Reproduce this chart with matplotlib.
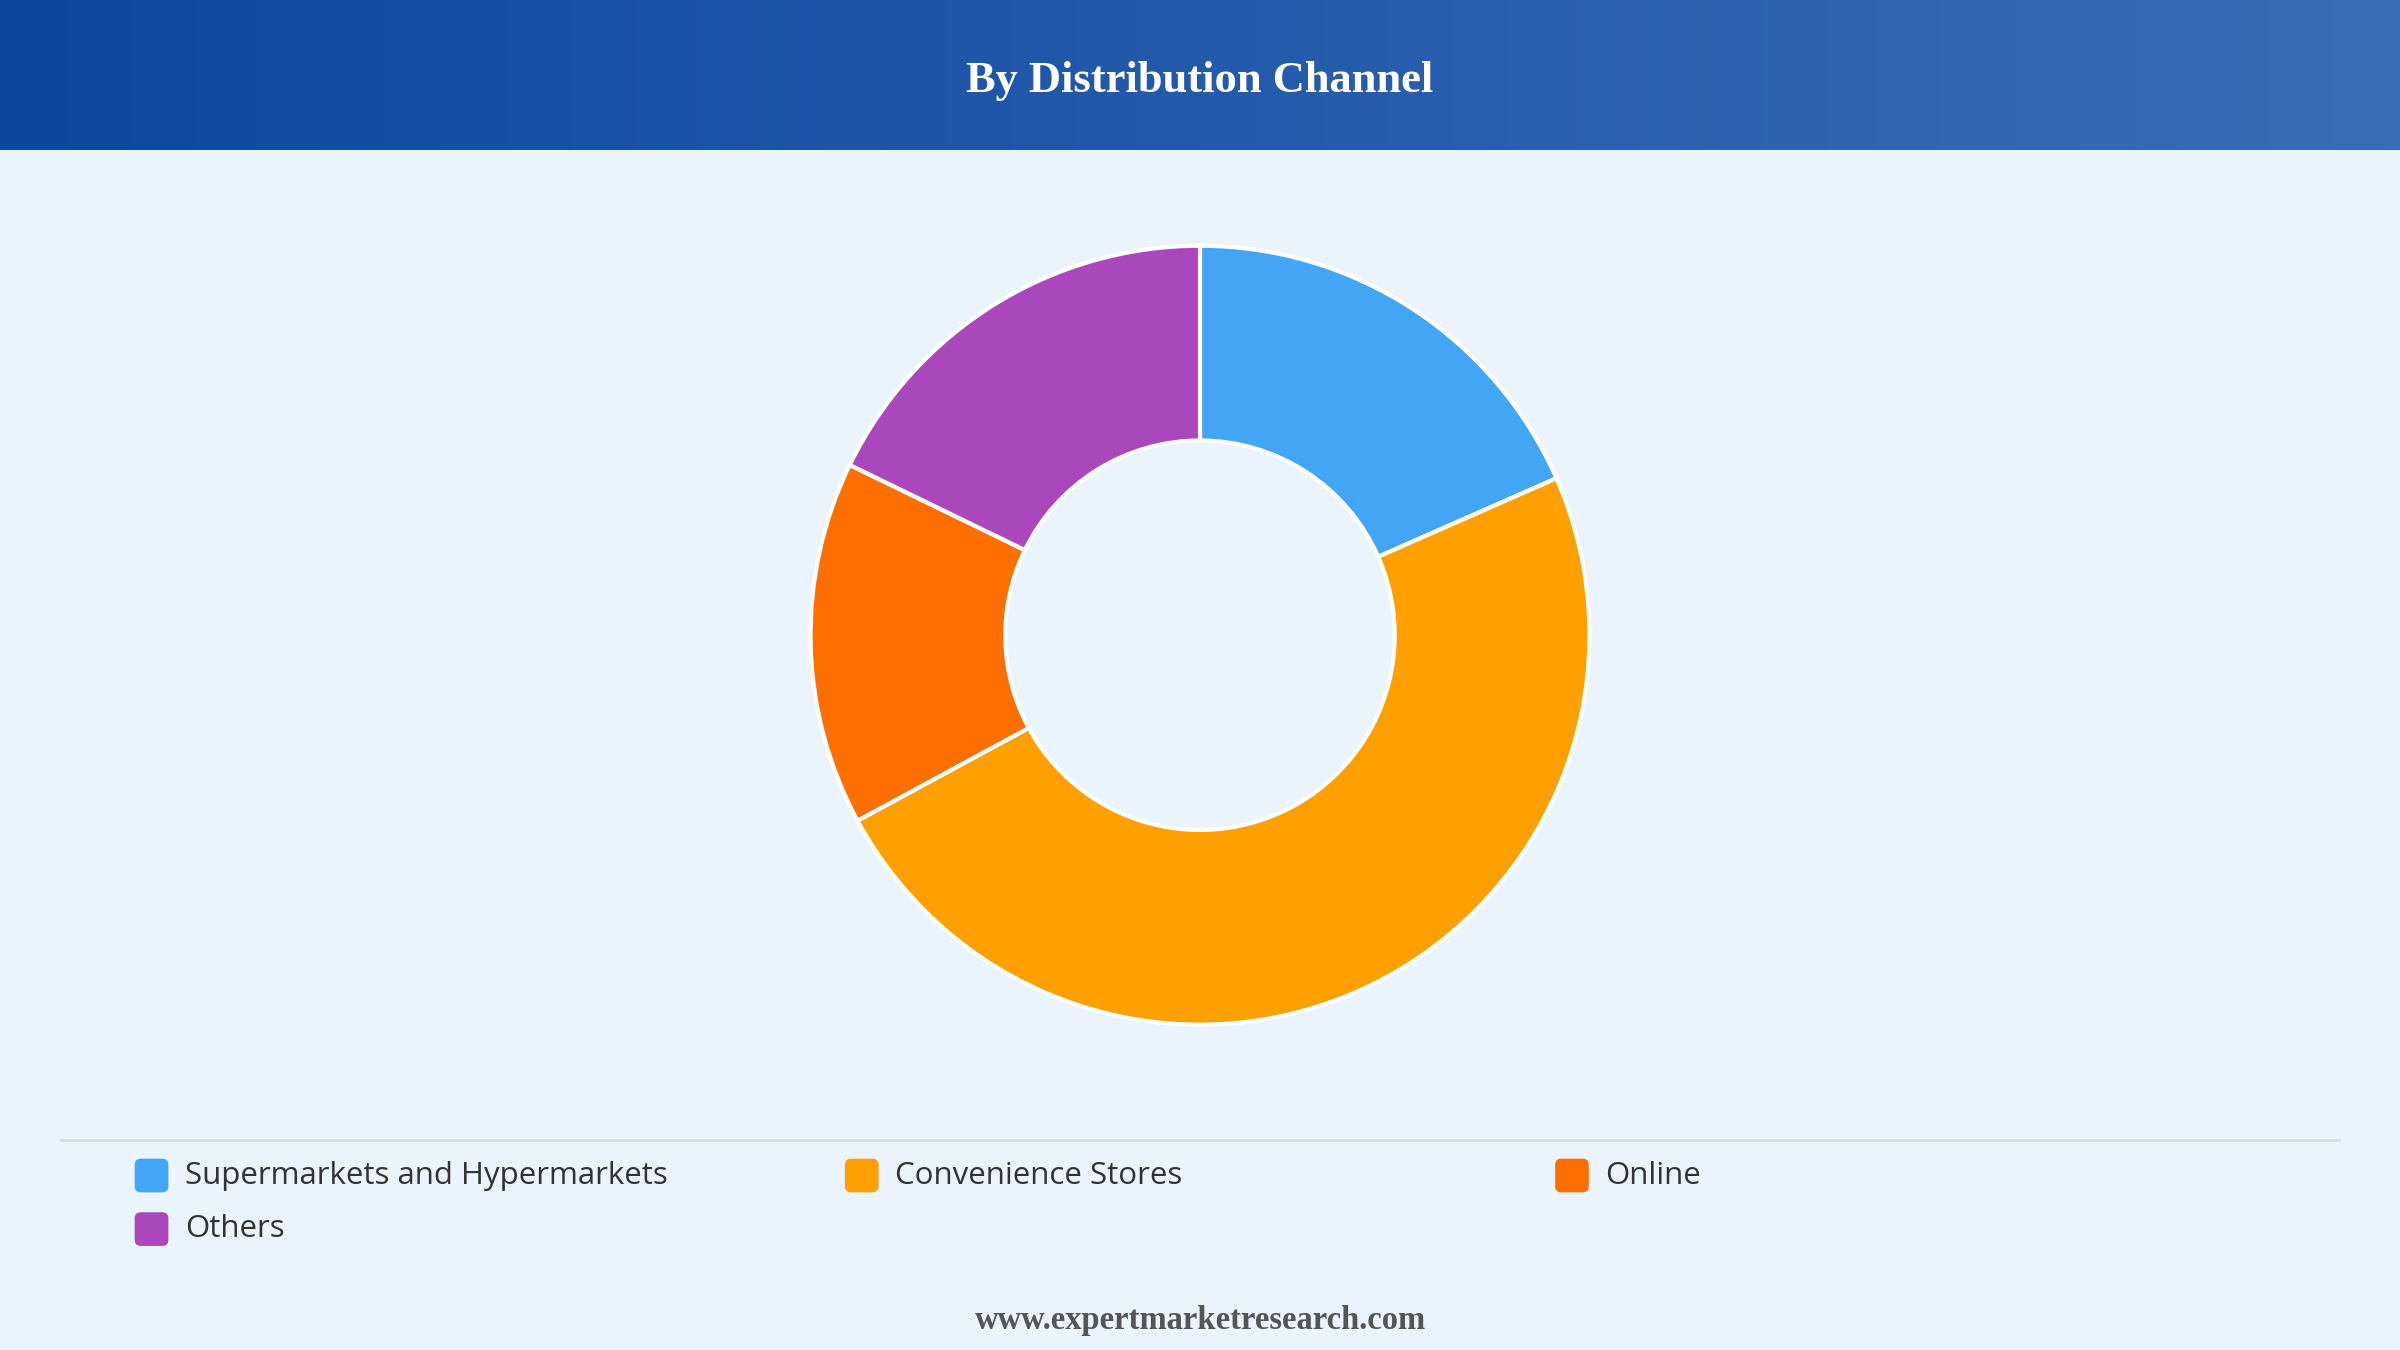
import matplotlib
matplotlib.use("Agg")
import matplotlib.pyplot as plt
import numpy as np
from matplotlib.patches import FancyBboxPatch
from matplotlib.colors import LinearSegmentedColormap

categories = ["Supermarkets and Hypermarkets", "Convenience Stores", "Online", "Others"]
values = [18.4, 48.7, 15.1, 17.8]
colors = ["#42A5F5", "#FFA000", "#FF6F00", "#AB47BC"]

W, H = 1568, 882
fig = plt.figure(figsize=(24, 13.5), dpi=100)
fig.patch.set_facecolor("#EBF3FC")

bg = fig.add_axes([0, 0, 1, 1])
bg.axis("off")
grad = np.linspace(0, 1, 256).reshape(1, -1)
cm = LinearSegmentedColormap.from_list("g", ["#0D47A1", "#3B6DB6"])
bg.imshow(grad, cmap=cm, extent=[0, W, 98, 0], aspect="auto")
bg.set_xlim(0, W); bg.set_ylim(H, 0)
bg.text(W/2, 53, "By Distribution Channel", color="white", ha="center", va="center",
        fontsize=32, fontweight="bold", family="Liberation Serif")
bg.plot([40, 1528], [745, 745], color="#D5DCE4", lw=2)

xs = [88, 552, 1016, 88]
ys = [768, 768, 768, 803]
for c, col, x, y in zip(categories, colors, xs, ys):
    bg.add_patch(FancyBboxPatch((x, y-11), 22, 22, boxstyle="round,pad=0,rounding_size=4",
                                fc=col, ec="none"))
    bg.text(x+33, y, c, va="center", ha="left", fontsize=22.5, color="#333333", family="Open Sans")
bg.text(W/2, 863, "www.expertmarketresearch.com", ha="center", va="center", fontsize=23.5,
        fontweight="bold", color="#555555", family="Liberation Serif")

r = 257
ax = fig.add_axes([(784-r)/W, 1-(415+r)/H, 2*r/W, 2*r/H])
ax.pie(values, colors=colors, startangle=90, counterclock=False, radius=1,
       wedgeprops=dict(width=0.5, edgecolor="white", linewidth=3))
ax.set_xlim(-1.01, 1.01); ax.set_ylim(-1.01, 1.01)
ax.set_aspect("equal"); ax.axis("off")

fig.savefig("out.png", dpi=100, facecolor=fig.get_facecolor())
